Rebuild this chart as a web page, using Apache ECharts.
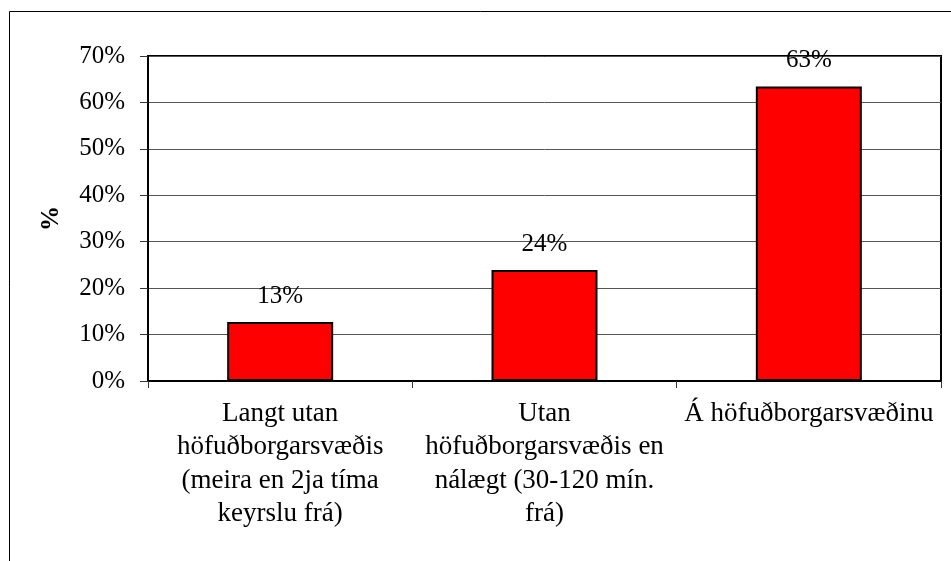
<!DOCTYPE html>
<html>
<head>
<meta charset="utf-8">
<style>
  html, body { margin: 0; padding: 0; background: #fff; }
  #main { width: 951px; height: 561px; }
</style>
<script src="https://cdn.jsdelivr.net/npm/echarts@6/dist/echarts.min.js"></script>
</head>
<body>
<div id="main"></div>
<script>
// flokkar (x-ás)
var categories = [
    'Langt utan\nhöfuðborgarsvæðis\n(meira en 2ja tíma\nkeyrslu frá)',
    'Utan\nhöfuðborgarsvæðis en\nnálægt (30-120 mín.\nfrá)',
    'Á höfuðborgarsvæðinu'
];
// hlutfall í %
var values = [12.7, 23.9, 63.45];
// y-ás
var yMin = 0, yMax = 70, yStep = 10;

var font = '"Liberation Serif", "Times New Roman", serif';

var chart = echarts.init(document.getElementById('main'));

var option = {
    backgroundColor: '#fff',
    animation: false,
    textStyle: { fontFamily: font, color: '#000' },
    // ytri rammi
    graphic: [{
        type: 'rect',
        shape: { x: 9.5, y: 11.5, width: 1000, height: 600 },
        style: { fill: 'none', stroke: '#000', lineWidth: 1 },
        silent: true
    }],
    grid: {
        left: 148, top: 56, right: 10, bottom: 180,
        show: true, borderColor: '#000', borderWidth: 2,
        backgroundColor: 'transparent'
    },
    xAxis: {
        type: 'category',
        data: categories,
        boundaryGap: true,
        axisLine: { lineStyle: { color: '#000', width: 2 } },
        axisTick: { show: true, length: 7, lineStyle: { color: '#333', width: 1 } },
        axisLabel: {
            interval: 0, margin: 16,
            fontFamily: font, fontSize: 27, color: '#000', lineHeight: 33.5
        }
    },
    yAxis: {
        type: 'value',
        min: yMin, max: yMax, interval: yStep,
        name: '%',
        nameLocation: 'middle',
        nameRotate: 90,
        nameGap: 84,
        nameTextStyle: { fontFamily: font, fontSize: 25, fontWeight: 'bold', color: '#000' },
        axisLine: { show: true, lineStyle: { color: '#000', width: 2 } },
        axisTick: { show: true, length: 8, lineStyle: { color: '#333', width: 1 } },
        axisLabel: {
            margin: 23, fontFamily: font, fontSize: 25, color: '#000',
            formatter: function (v) { return v + '%'; }
        },
        splitLine: { show: true, lineStyle: { color: '#555', width: 1 } }
    },
    series: [{
        type: 'bar',
        data: values,
        barWidth: 106,
        itemStyle: { color: '#ff0000', borderColor: '#000', borderWidth: 2 },
        label: {
            show: true, position: 'top', distance: 13,
            fontFamily: font, fontSize: 25, color: '#000',
            formatter: function (p) { return Math.round(p.value) + '%'; }
        }
    }]
};

chart.setOption(option);
</script>
</body>
</html>
